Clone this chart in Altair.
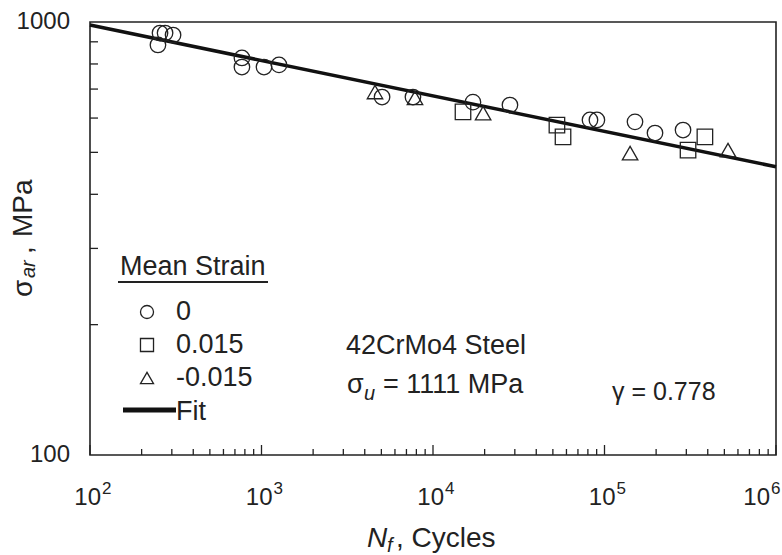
import altair as alt
import pandas as pd

# ---- data ----
circle_N = [249, 256, 274, 305, 769, 769, 1034, 1265, 5047, 7640, 17100, 28100,
            82300, 90300, 150600, 197000, 287000]
circle_S = [885, 943, 943, 933, 826, 787, 787, 796, 671, 671, 653, 643,
            594, 594, 588, 554, 563]
square_N = [14960, 52800, 57300, 307000, 385000]
square_S = [620, 578, 543, 506, 543]
tri_N = [4590, 7850, 19600, 141000, 525000]
tri_S = [689, 668, 616, 498, 506]
fit_N = [100, 1000000]
fit_S = [984, 463]

x_major = [100, 1000, 10000, 100000, 1000000]
x_exponents = ["2", "3", "4", "5", "6"]
x_minor = [m * 10 ** k for k in range(2, 6) for m in range(2, 10)]
y_major = [100, 1000]
y_labels = ["100", "1000"]
y_minor = [200, 300, 400, 500, 600, 700, 800, 900]

legend_labels = ["0", "0.015", "-0.015"]
legend_shapes = ["circle", "square", "triangle-up"]

FONT = "Liberation Sans"
INK = "#222222"
W, H = 686, 433

xs = alt.Scale(type="log", domain=[100, 1000000])
ys = alt.Scale(type="log", domain=[100, 1000])

pts = pd.DataFrame({
    "N": circle_N + square_N + tri_N,
    "S": circle_S + square_S + tri_S,
    "g": ["0"] * len(circle_N) + ["0.015"] * len(square_N) + ["-0.015"] * len(tri_N),
})
fit = pd.DataFrame({"N": fit_N, "S": fit_S})
one = pd.DataFrame({"a": [0]})

points = alt.Chart(pts).mark_point(filled=False, size=240, strokeWidth=1.3, color=INK, opacity=1).encode(
    x=alt.X("N:Q", scale=xs, axis=None),
    y=alt.Y("S:Q", scale=ys, axis=None),
    shape=alt.Shape("g:N", scale=alt.Scale(domain=legend_labels, range=legend_shapes), legend=None),
)

fit_line = alt.Chart(fit).mark_line(color="#111111", strokeWidth=3.5).encode(
    x=alt.X("N:Q", scale=xs, axis=None),
    y=alt.Y("S:Q", scale=ys, axis=None),
)

# ticks (inward)
xmaj_ticks = alt.Chart(pd.DataFrame({"v": x_major})).mark_rule(color=INK, strokeWidth=1.3).encode(
    x=alt.X("v:Q", scale=xs, axis=None), y=alt.value(H), y2=alt.value(H - 10))
xmin_ticks = alt.Chart(pd.DataFrame({"v": x_minor})).mark_rule(color=INK, strokeWidth=1.3).encode(
    x=alt.X("v:Q", scale=xs, axis=None), y=alt.value(H), y2=alt.value(H - 6))
ymin_ticks = alt.Chart(pd.DataFrame({"v": y_minor})).mark_rule(color=INK, strokeWidth=1.3).encode(
    y=alt.Y("v:Q", scale=ys, axis=None), x=alt.value(0), x2=alt.value(8))

# tick labels
xlab_df = pd.DataFrame({"v": x_major, "e": x_exponents})


def xlabels(dx_base, dx_exp, flt):
    base = alt.Chart(xlab_df).transform_filter(flt).mark_text(
        font=FONT, fontSize=24, align="right", baseline="alphabetic", dx=dx_base, color=INK).encode(
        x=alt.X("v:Q", scale=xs, axis=None), y=alt.value(H + 50), text=alt.value("10"))
    exp = alt.Chart(xlab_df).transform_filter(flt).mark_text(
        font=FONT, fontSize=17, align="left", baseline="alphabetic", dx=dx_exp, color=INK).encode(
        x=alt.X("v:Q", scale=xs, axis=None), y=alt.value(H + 39), text="e:N")
    return [base, exp]


xlab_layers = xlabels(11, 12, alt.datum.v < 500000) + xlabels(-6, -5, alt.datum.v > 500000)

ylab = alt.Chart(pd.DataFrame({"v": y_major, "t": y_labels})).mark_text(
    font=FONT, fontSize=24, align="right", baseline="middle", color=INK).encode(
    y=alt.Y("v:Q", scale=ys, axis=None), x=alt.value(-20), text="t:N")


def txt(s, x, y, size=24, style="normal", align="left", baseline="middle", angle=0):
    kw = dict(font=FONT, fontSize=size, fontStyle=style, align=align, baseline=baseline, color=INK)
    if angle:
        kw["angle"] = angle
    return alt.Chart(one).mark_text(**kw).encode(x=alt.value(x), y=alt.value(y), text=alt.value(s))


# axis titles
ytitle = [
    txt("σ", -58, 275, size=28, angle=270, baseline="alphabetic"),
    txt("ar", -55, 256, size=20, style="italic", angle=270, baseline="alphabetic"),
    txt(",", -58, 232, size=28, angle=270, baseline="alphabetic"),
    txt("MPa", -58, 215, size=28, angle=270, baseline="alphabetic"),
]
xtitle = [
    txt("N", 277, 525, size=28, style="italic", baseline="alphabetic"),
    txt("f", 297, 530, size=20, style="italic", baseline="alphabetic"),
    txt(", Cycles", 306, 525, size=28, baseline="alphabetic"),
]

# legend
legend_layers = [
    txt("Mean Strain", 30, 253, size=27, baseline="alphabetic"),
    alt.Chart(one).mark_rule(color=INK, strokeWidth=2).encode(
        x=alt.value(28), x2=alt.value(178), y=alt.value(260)),
]
for i, (lab, shp) in enumerate(zip(legend_labels, legend_shapes)):
    yy = 290 + i * 33
    legend_layers.append(
        alt.Chart(one).mark_point(shape=shp, filled=False, size=170, strokeWidth=1.3, color=INK, opacity=1)
        .encode(x=alt.value(57), y=alt.value(yy)))
    legend_layers.append(txt(lab, 86, yy, size=27))
legend_layers.append(alt.Chart(one).mark_rule(color="#111111", strokeWidth=5).encode(
    x=alt.value(33), x2=alt.value(86), y=alt.value(388)))
legend_layers.append(txt("Fit", 86, 390, size=27))

# annotations
notes = [
    txt("42CrMo4 Steel", 256, 324, size=27),
    txt("σ", 257, 363, size=27),
    txt("u", 274, 372, size=20, style="italic"),
    txt("= 1111 MPa", 293, 363, size=27),
    txt("γ = 0.778", 522, 370, size=25),
]

chart = alt.layer(
    xmin_ticks, xmaj_ticks, ymin_ticks, fit_line, points, *xlab_layers, ylab,
    *ytitle, *xtitle, *legend_layers, *notes,
).properties(
    width=W, height=H,
    autosize=alt.AutoSizeParams(type="none"),
    padding={"left": 90, "top": 22, "right": 6, "bottom": 100},
    background="white",
).configure_view(stroke=INK, strokeWidth=1.6)

chart.save("out.html", embed_options={"renderer": "svg", "actions": False})
